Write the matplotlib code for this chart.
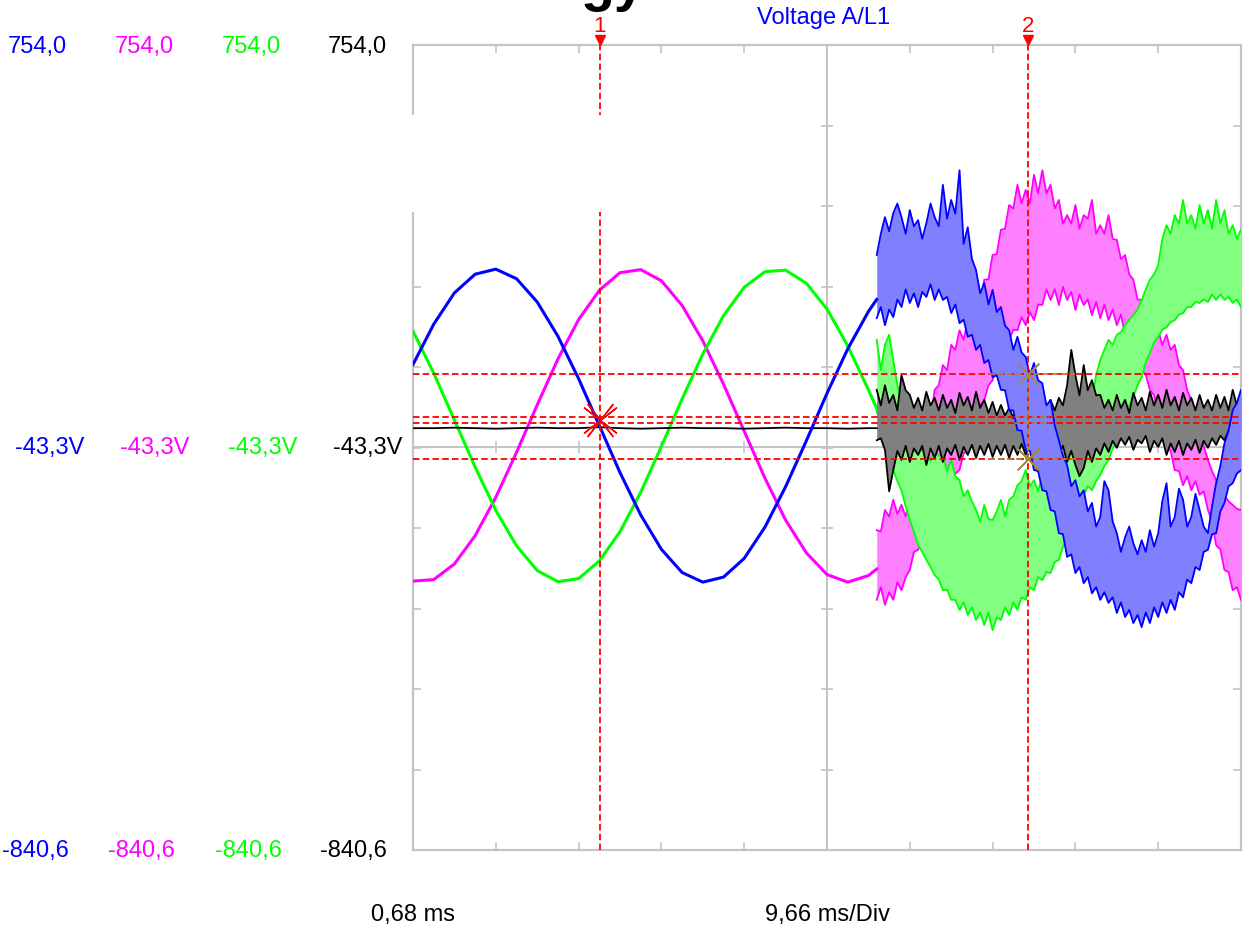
import numpy as np
import matplotlib
matplotlib.use("Agg")
import matplotlib.pyplot as plt
from matplotlib.patches import Rectangle

# scope settings
t_start = 0.68          # ms
ms_per_div = 9.66
v_top = 754.0
v_bot = -840.6
v_mid = -43.3

channel_colors = ["#0000ff", "#ff00ff", "#00ff00", "#000000"]
band_colors = {"blue": "#8080ff", "magenta": "#ff80ff", "green": "#80ff80", "black": "#808080"}

# clean part of the capture (ms, V)
t_clean = [0.68, 3.10, 5.51, 7.93, 10.34, 12.76, 15.17, 17.59, 20.00, 22.42, 24.83,
           27.25, 29.66, 32.08, 34.49, 36.91, 39.32, 41.74, 44.15, 46.57, 48.98,
           51.40, 53.81, 54.78]
blue_clean = [121, 201, 263, 300, 310, 291, 245, 177, 93, 0, -93, -177, -245, -291,
              -310, -300, -263, -201, -121, -30, 64, 152, 226, 250]
magenta_clean = [-308, -305, -274, -218, -142, -53, 41, 132, 210, 268, 303, 309, 287,
                 238, 168, 82, -11, -104, -187, -252, -295, -310, -297, -284]
green_clean = [187, 104, 11, -82, -168, -238, -287, -309, -303, -268, -210, -132, -41,
               53, 142, 218, 274, 305, 308, 282, 231, 158, 71, 34]
black_clean = [-5, -5, -4, -5, -6, -5, -4, -5, -5, -3, -5, -6, -5, -4, -5, -5, -6,
               -5, -4, -5, -5, -6, -5, -5]

# noisy part (ms); envelope read at every other sample, spikes in between
t_noise = [54.78, 55.26, 55.74, 56.23, 56.71, 57.19, 57.67, 58.16, 58.64, 59.12, 59.61,
           60.09, 60.57, 61.06, 61.54, 62.02, 62.50, 62.99, 63.47, 63.95, 64.44, 64.92,
           65.40, 65.89, 66.37, 66.85, 67.33, 67.82, 68.30, 68.78, 69.27, 69.75, 70.23,
           70.72, 71.20, 71.68, 72.16, 72.65, 73.13, 73.61, 74.10, 74.58, 75.06, 75.55,
           76.03, 76.51, 76.99, 77.48, 77.96, 78.44, 78.93, 79.41, 79.89, 80.38, 80.86,
           81.34, 81.82, 82.31, 82.79, 83.27, 83.76, 84.24, 84.72, 85.21, 85.69, 86.17,
           86.65, 87.14, 87.62, 88.10, 88.59, 89.07, 89.55, 90.04, 90.52, 91.00, 91.48,
           91.97, 92.45, 92.93, 93.42, 93.90, 94.38, 94.87, 95.35, 95.83, 96.31, 96.80,
           97.28]

blue_hi = [338, 413, 421, 413, 427, 407, 401, 413, 477, 447, 506, 393, 308, 283, 269,
           235, 189, 176, 136, 124, 84, 51, -29, -78, -108, -128, -153, -181, -128, -213,
           -221, -233, -227, -207, -213, -114, -181, -147, -181, -167, -213, -114, -35, 31, 71]
blue_hi_mid = [380, 385, 440, 380, 395, 370, 440, 395, 410, 420, 360, 330, 262, 240, 225,
               198, 150, 145, 100, 90, 40, 0, -60, -120, -140, -170, -200, -110, -190, -250,
               -200, -255, -250, -240, -150, -200, -125, -200, -135, -200, -160, -80, -10, 45]
blue_lo = [213, 199, 215, 235, 243, 235, 255, 249, 249, 223, 203, 176, 150, 124, 96, 71,
           31, -9, -48, -88, -128, -167, -213, -260, -292, -312, -332, -345, -351, -371,
           -379, -391, -399, -391, -379, -371, -365, -340, -312, -286, -246, -213, -153,
           -114, -88]
blue_lo_mid = [235, 230, 250, 270, 262, 265, 280, 270, 255, 240, 210, 180, 160, 130, 100,
               70, 30, -10, -50, -90, -130, -170, -215, -255, -280, -300, -320, -330, -340,
               -350, -365, -375, -370, -360, -350, -345, -330, -305, -280, -250, -215, -170,
               -120, -95]
magenta_hi = [-207, -167, -147, -157, -147, -128, -29, 71, 120, 160, 189, 209, 249, 289,
              338, 388, 437, 477, 467, 497, 506, 477, 447, 417, 437, 417, 447, 397, 417,
              368, 338, 289, 249, 229, 189, 180, 160, 110, 51, -9, -68, -108, -137, -157, -167]
magenta_hi_mid = [-210, -180, -175, -180, -160, -100, 10, 80, 110, 150, 170, 200, 240, 290,
                  340, 390, 430, 440, 440, 460, 460, 430, 400, 400, 390, 410, 380, 380, 370,
                  330, 300, 250, 220, 190, 160, 150, 120, 70, 20, -40, -90, -125, -150, -165]
magenta_lo = [-345, -355, -345, -326, -286, -246, -227, -187, -157, -128, -88, -48, 11, 51,
              90, 130, 170, 189, 199, 209, 239, 249, 239, 249, 229, 239, 219, 213, 209, 199,
              180, 160, 110, 71, 21, -38, -88, -118, -128, -137, -167, -237, -286, -326, -345]
magenta_lo_mid = [-320, -330, -310, -300, -250, -225, -190, -160, -130, -95, -55, -10, 40,
                  80, 120, 160, 190, 215, 225, 240, 270, 270, 275, 265, 260, 250, 245, 240,
                  230, 220, 200, 150, 100, 60, 0, -50, -90, -100, -110, -130, -190, -245,
                  -290, -320]
green_hi = [170, 160, 130, 51, -9, -29, -48, -48, -58, -68, -108, -128, -167, -157, -187,
            -147, -147, -118, -88, -108, -98, -88, -48, -38, -29, -9, 51, 130, 170, 180, 199,
            219, 249, 289, 318, 397, 417, 447, 417, 437, 427, 447, 427, 397, 388]
green_hi_mid = [110, 180, 80, 10, -30, -50, -70, -60, -90, -100, -140, -150, -190, -185,
                -170, -180, -140, -110, -120, -130, -120, -70, -60, -50, -30, 20, 100, 150,
                160, 185, 210, 230, 270, 300, 370, 380, 400, 400, 390, 400, 390, 400, 380, 370]
green_lo = [30, -29, -88, -128, -187, -237, -266, -296, -326, -345, -365, -375, -385, -395,
            -405, -385, -375, -365, -345, -326, -306, -292, -266, -227, -167, -137, -128,
            -98, -68, -29, 17, 57, 96, 144, 176, 195, 209, 223, 235, 243, 245, 249, 249, 243, 235]
green_lo_mid = [-5, -60, -110, -160, -210, -250, -280, -305, -325, -345, -350, -360, -370,
                -370, -380, -360, -350, -340, -320, -300, -290, -270, -240, -200, -140, -120,
                -110, -80, -45, 0, 40, 80, 125, 165, 190, 205, 220, 235, 245, 250, 260, 260,
                255, 250]
black_hi = [71, 80, 61, 100, 61, 55, 67, 55, 61, 51, 65, 57, 67, 51, 47, 41, 35, 41, 41,
            41, 45, 51, 55, 80, 100, 120, 90, 61, 51, 61, 51, 65, 55, 67, 61, 71, 57, 65,
            55, 61, 51, 61, 57, 71, 61]
black_hi_mid = [40, 45, 30, 70, 35, 30, 40, 30, 35, 25, 40, 30, 35, 25, 20, 20, 15, 15, 20,
                20, 25, 30, 40, 150, 60, 70, 60, 35, 30, 35, 25, 40, 30, 40, 35, 40, 30, 40,
                30, 35, 30, 35, 30, 40]
black_lo = [-29, -48, -88, -68, -72, -58, -78, -64, -72, -58, -68, -58, -64, -58, -62, -58,
            -64, -58, -58, -58, -48, -44, -58, -72, -78, -84, -72, -58, -52, -44, -38, -48,
            -35, -52, -42, -58, -52, -58, -48, -54, -44, -38, -29, -19, -9]
black_lo_mid = [-25, -130, -50, -40, -45, -40, -45, -40, -45, -38, -42, -38, -40, -36, -40,
                -38, -40, -36, -38, -32, -28, -30, -40, -50, -100, -50, -45, -35, -30, -25,
                -22, -28, -20, -30, -25, -35, -30, -35, -28, -30, -25, -20, -10, 0]

# cursors
cursor_t = [22.49, 72.43]
cursor_names = ["1", "2"]
cursor_levels = [102.3, 17.1, 5.2, -65.2]

# per-channel scale labels
scale_top = "754,0"
scale_mid = "-43,3V"
scale_bot = "-840,6"

FONT = ["Liberation Sans", "DejaVu Sans"]


def px(x, y):
    # pixel position -> figure fraction
    return x / 1250.0, 1.0 - y / 936.0


def weave(base, mid):
    out = np.empty(len(base) + len(mid))
    out[0::2] = base
    out[1::2] = mid
    return out


fig = plt.figure(figsize=(12.5, 9.36), dpi=100)
ax = fig.add_axes([413 / 1250, 1 - 850 / 936, 828 / 1250, 805 / 936])
ax.set_xlim(t_start, t_start + 10 * ms_per_div)
ax.set_ylim(v_bot, v_top)

xdivs = [t_start + ms_per_div * k for k in range(11)]
ydivs = [v_bot + (v_top - v_bot) / 10 * k for k in range(11)]
grey = "#c4c4c4"
for s in ax.spines.values():
    s.set_color(grey)
    s.set_linewidth(1.6)
ax.set_xticks(xdivs)
ax.set_yticks(ydivs)
ax.tick_params(direction="in", length=6, width=1.2, color=grey,
               top=True, right=True, labelbottom=False, labelleft=False)

# centre axes with cross ticks
t_mid = xdivs[5]
ax.axvline(t_mid, color=grey, lw=1.4, zorder=1)
ax.axhline(v_mid, color=grey, lw=1.4, zorder=1)
ax.plot(xdivs[1:-1], [v_mid] * 9, ls="none", marker="|", ms=9, mew=1.2, color=grey, zorder=1)
ax.plot([t_mid] * 9, ydivs[1:-1], ls="none", marker="_", ms=9, mew=1.2, color=grey, zorder=1)

# traces: magenta under green under black under blue
layers = [
    ("magenta", magenta_clean, weave(magenta_lo, magenta_lo_mid),
     weave(magenta_hi, magenta_hi_mid), channel_colors[1], 3),
    ("green", green_clean, weave(green_lo, green_lo_mid),
     weave(green_hi, green_hi_mid), channel_colors[2], 4),
    ("black", black_clean, weave(black_lo, black_lo_mid),
     weave(black_hi, black_hi_mid), channel_colors[3], 5),
    ("blue", blue_clean, weave(blue_lo, blue_lo_mid),
     weave(blue_hi, blue_hi_mid), channel_colors[0], 6),
]
for name, clean, lo, hi, col, z in layers:
    ax.fill_between(t_noise, lo, hi, color=band_colors[name], lw=0, zorder=z)
    ax.plot(t_noise, hi, color=col, lw=1.3, zorder=z)
    ax.plot(t_noise, lo, color=col, lw=1.3, zorder=z)
    ax.plot(t_clean, clean, color=col, lw=1.3 if name == "black" else 2.2, zorder=z)

# cursor lines
red_dash = (0, (3.6, 1.8))
for lv in cursor_levels:
    ax.axhline(lv, color="red", lw=1.3, ls=red_dash, zorder=8)
for tc, nm in zip(cursor_t, cursor_names):
    ax.axvline(tc, color="red", lw=1.3, ls=red_dash, zorder=8)
    ax.plot([tc], [v_top + 9], marker="v", ms=7, color="red", clip_on=False, zorder=9)
    fx, _ = ax.transData.transform((tc, 0))
    fig.text(fx / 1250, px(0, 27)[1], nm, color="red", ha="center", va="center",
             fontsize=16, family=FONT)

# cursor 1 crosshair
for ang in (38, 52):
    ax.plot([cursor_t[0]], [11.0], marker=(4, 2, ang), ms=30, mew=1.0, color="red", zorder=9)

# cursor 2 measurement markers
brown = "#a08c3c"
ax.plot([cursor_t[1]] * 2, [cursor_levels[0], cursor_levels[3]], color=brown, lw=1.3,
        ls=(0, (3, 2)), zorder=9)
for lv in (cursor_levels[0], cursor_levels[3]):
    ax.plot([cursor_t[1] - 4.5, cursor_t[1] + 5.5], [lv, lv], color=brown, lw=1.3,
            ls=(0, (3, 2)), zorder=9)
    ax.plot([cursor_t[1]], [lv], marker=(4, 2, 45), ms=22, mew=1.0, color=brown, zorder=9)
for lv in (cursor_levels[1], cursor_levels[2]):
    ax.plot([cursor_t[1] - 1.5, cursor_t[1] + 2.5], [lv, lv], color=brown, lw=1.2,
            ls=(0, (3, 2)), zorder=9)

# blank patch over the upper left corner of the grid
fig.add_artist(Rectangle(px(404, 212), 230 / 1250, 97 / 936, transform=fig.transFigure,
                         facecolor="white", edgecolor="none", zorder=20))

# bottom of a cut-off heading above the capture
fig.text(581 / 1250, 1.0, "gy", color="black", ha="left", va="baseline",
         fontsize=40, fontweight="bold", family=FONT)

# title and labels
fig.text(*px(824, 18), "Voltage A/L1", color="#0000ff", ha="center", va="center",
         fontsize=17, family=FONT)

tops_x = [8, 115, 222, 328]
mids_x = [15, 120, 228, 333]
bots_x = [2, 108, 215, 320]
for i, col in enumerate(channel_colors):
    fig.text(*px(tops_x[i], 47), scale_top, color=col, ha="left", va="center",
             fontsize=17, family=FONT)
    fig.text(*px(mids_x[i], 448), scale_mid, color=col, ha="left", va="center",
             fontsize=17, family=FONT)
    fig.text(*px(bots_x[i], 851), scale_bot, color=col, ha="left", va="center",
             fontsize=17, family=FONT)

fig.text(*px(371, 915), "0,68 ms", color="black", ha="left", va="center",
         fontsize=17, family=FONT)
fig.text(*px(765, 915), "9,66 ms/Div", color="black", ha="left", va="center",
         fontsize=17, family=FONT)

fig.savefig("out.png", dpi=100, facecolor="white")
